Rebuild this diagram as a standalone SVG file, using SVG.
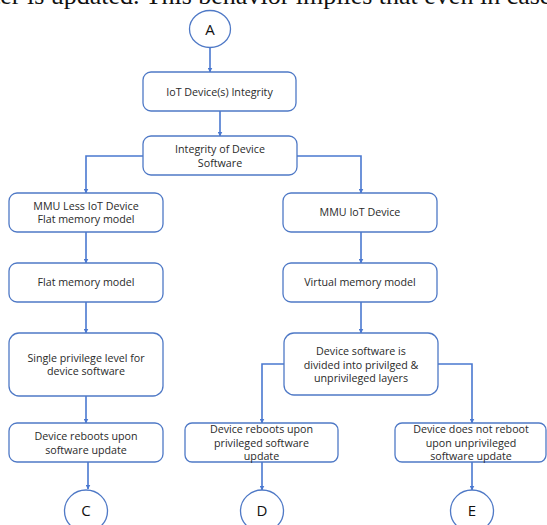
<svg xmlns="http://www.w3.org/2000/svg" width="547" height="525" viewBox="0 0 547 525">
  <style>
    .box { fill: #ffffff; stroke: #4f79c6; stroke-width: 1.3; }
    .lbl { font-family: "Open Sans", "Liberation Sans", sans-serif; font-size: 10.7px; fill: #2a2a2a; text-anchor: middle; }
    .big { font-family: "Open Sans", "Liberation Sans", sans-serif; font-size: 15px; fill: #111111; text-anchor: middle; }
    .wire { fill: none; stroke: #4a78d0; stroke-width: 1.6; marker-end: url(#arrow); }
    .prose { font-family: "Liberation Serif", serif; font-size: 26px; fill: #111111; }
  </style>
  <defs>
    <marker id="arrow" viewBox="0 0 10 10" refX="9" refY="5" markerWidth="5" markerHeight="5" orient="auto" markerUnits="userSpaceOnUse">
      <path d="M0,0 L10,5 L0,10 z" fill="#4a78d0"/>
    </marker>
  </defs>

  <rect width="547" height="525" fill="#ffffff"/>

  <!-- running text line above the chart -->
  <text class="prose" x="-7" y="4">ter is updated. This behavior implies that even in case</text>

  <g id="connectors">
    <path class="wire" d="M210,47 V72"/>
    <path class="wire" d="M220,111 V136"/>
    <path class="wire" d="M143,156 H86 V193"/>
    <path class="wire" d="M297,156 H361 V193"/>
    <path class="wire" d="M86,232 V263"/>
    <path class="wire" d="M86,302 V333"/>
    <path class="wire" d="M86,396 V423"/>
    <path class="wire" d="M88,462 V489"/>
    <path class="wire" d="M361,232 V263"/>
    <path class="wire" d="M361,302 V333"/>
    <path class="wire" d="M284,364 H262 V423"/>
    <path class="wire" d="M438,364 H472 V423"/>
    <path class="wire" d="M262,462 V490"/>
    <path class="wire" d="M472,462 V490"/>
  </g>

  <g id="node-a">
    <ellipse class="box" cx="210" cy="29" rx="20.5" ry="18.5"/>
    <text class="big" x="210" y="35" font-size="14">A</text>
  </g>

  <g id="node-integrity">
    <rect class="box" x="143" y="72" width="153" height="39" rx="8"/>
    <text class="lbl" x="219.5" y="95.5">IoT Device(s) Integrity</text>
  </g>

  <g id="node-software-integrity">
    <rect class="box" x="143" y="136" width="154" height="39" rx="8"/>
    <text class="lbl" x="220" y="153">Integrity of Device</text>
    <text class="lbl" x="220" y="167">Software</text>
  </g>

  <g id="node-mmu-less">
    <rect class="box" x="9" y="193" width="154" height="39" rx="8"/>
    <text class="lbl" x="86" y="209.5">MMU Less IoT Device</text>
    <text class="lbl" x="86" y="223">Flat memory model</text>
  </g>

  <g id="node-flat">
    <rect class="box" x="9" y="263" width="154" height="39" rx="8"/>
    <text class="lbl" x="86" y="285.5">Flat memory model</text>
  </g>

  <g id="node-single-priv">
    <rect class="box" x="9" y="333" width="154" height="63" rx="10"/>
    <text class="lbl" x="86" y="361.5">Single privilege level for</text>
    <text class="lbl" x="86" y="375">device software</text>
  </g>

  <g id="node-reboot-left">
    <rect class="box" x="9" y="423" width="154" height="39" rx="8"/>
    <text class="lbl" x="86" y="440">Device reboots upon</text>
    <text class="lbl" x="86" y="453.5">software update</text>
  </g>

  <g id="node-c">
    <ellipse class="box" cx="86" cy="511" rx="21.5" ry="21"/>
    <text class="big" x="86" y="516">C</text>
  </g>

  <g id="node-mmu">
    <rect class="box" x="283" y="193" width="154" height="39" rx="8"/>
    <text class="lbl" x="360" y="216">MMU IoT Device</text>
  </g>

  <g id="node-virtual">
    <rect class="box" x="283" y="263" width="154" height="39" rx="8"/>
    <text class="lbl" x="360" y="285.5">Virtual memory model</text>
  </g>

  <g id="node-divided">
    <rect class="box" x="284" y="333" width="154" height="62" rx="10"/>
    <text class="lbl" x="361" y="355">Device software is</text>
    <text class="lbl" x="361" y="368.5">divided into privilged &amp;</text>
    <text class="lbl" x="361" y="382">unprivileged layers</text>
  </g>

  <g id="node-reboot-priv">
    <rect class="box" x="185" y="423" width="153" height="39" rx="7"/>
    <text class="lbl" x="261.5" y="433">Device reboots upon</text>
    <text class="lbl" x="261.5" y="446.5">privileged software</text>
    <text class="lbl" x="261.5" y="460">update</text>
  </g>

  <g id="node-no-reboot">
    <rect class="box" x="395" y="423" width="151" height="39" rx="7"/>
    <text class="lbl" x="471" y="433">Device does not reboot</text>
    <text class="lbl" x="471" y="446.5">upon unprivileged</text>
    <text class="lbl" x="471" y="460">software update</text>
  </g>

  <g id="node-d">
    <ellipse class="box" cx="262" cy="511" rx="21.5" ry="21"/>
    <text class="big" x="262" y="516">D</text>
  </g>

  <g id="node-e">
    <ellipse class="box" cx="472" cy="511" rx="21.5" ry="21"/>
    <text class="big" x="472" y="516">E</text>
  </g>
</svg>
